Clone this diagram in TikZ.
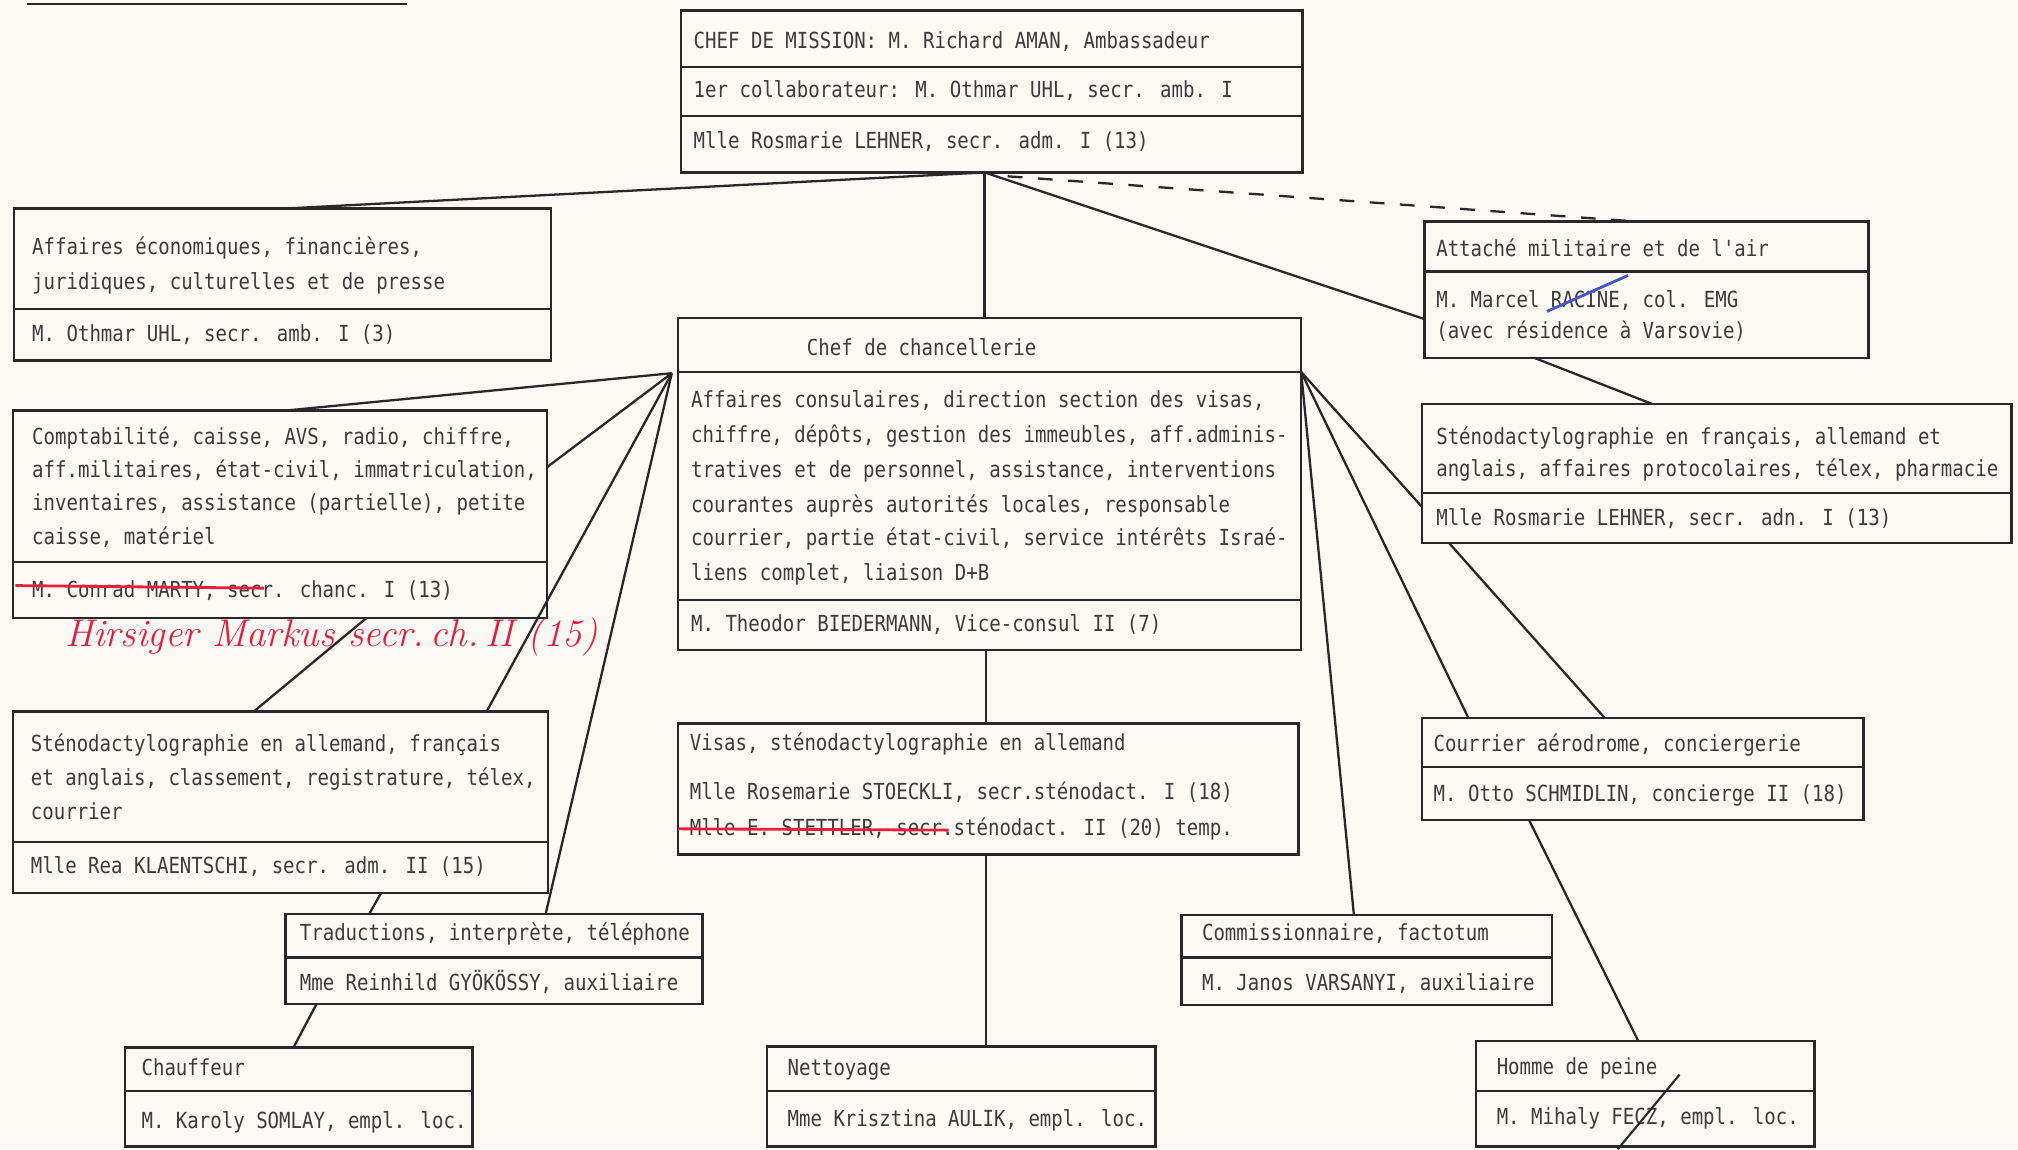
\documentclass[tikz,border=0pt]{standalone}
\usepackage{fontspec}
\newfontfamily\tw{DejaVu Sans Mono}[FakeStretch=0.86]
\usetikzlibrary{calc,fit}
\definecolor{paper}{RGB}{251,249,244}
\definecolor{ink}{RGB}{40,40,40}
\definecolor{txt}{RGB}{60,60,60}
\definecolor{redpen}{RGB}{232,30,60}
\definecolor{bluepen}{RGB}{70,85,205}
\begin{document}
\begin{tikzpicture}[x=0.01287cm,y=-0.01287cm,
  box/.style={draw=ink,line width=0.7pt,inner sep=0pt,outer sep=0pt,rectangle},
  sepline/.style={draw=ink,line width=0.6pt},
  lbl/.style={anchor=base west,inner sep=0pt,outer sep=0pt,text=txt,font=\tw\fontsize{6.3}{7}\selectfont},
  link/.style={draw=ink,line width=0.65pt},
  dashlink/.style={draw=ink,line width=0.65pt,dash pattern=on 4.2pt off 4.4pt},
  redmark/.style={draw=redpen,line width=0.8pt},
]
\fill[paper] (0,0) rectangle (1568,893);
\useasboundingbox (0,0) rectangle (1568,893);

% top-left underline of a cut-off heading
\draw[ink,line width=0.6pt] (21,3) -- (316,3);

% ---------- boxes ----------
\node[box,fit={(529,8) (1012,134)}] (A) {};
\draw[sepline] (529,52) -- (1012,52);
\draw[sepline] (529,90) -- (1012,90);
\node[lbl] (a1) at (539,38) {CHEF DE MISSION: M. Richard AMAN, Ambassadeur};
\node[lbl] (a2) at (539,76) {1er collaborateur: M. Othmar UHL, secr. amb. I};
\node[lbl] (a3) at (539,115) {Mlle Rosmarie LEHNER, secr. adm. I (13)};

\node[box,fit={(11,162) (428,280)}] (B) {};
\draw[sepline] (11,240) -- (428,240);
\node[lbl] (b1) at (25,198) {Affaires économiques, financières,};
\node[lbl] (b2) at (25,225) {juridiques, culturelles et de presse};
\node[lbl] (b3) at (25,265) {M. Othmar UHL, secr. amb. I (3)};

\node[box,fit={(527,247) (1011,505)}] (C) {};
\draw[sepline] (527,289) -- (1011,289);
\draw[sepline] (527,466) -- (1011,466);
\node[lbl] (c0) at (627,276) {Chef de chancellerie};
\node[lbl] (c1) at (537,317) {Affaires consulaires, direction section des visas,};
\node[lbl] (c2) at (537,344) {chiffre, dépôts, gestion des immeubles, aff.adminis-};
\node[lbl] (c3) at (537,371) {tratives et de personnel, assistance, interventions};
\node[lbl] (c4) at (537,398) {courantes auprès autorités locales, responsable};
\node[lbl] (c5) at (537,424) {courrier, partie état-civil, service intérêts Israé-};
\node[lbl] (c6) at (537,451) {liens complet, liaison D+B};
\node[lbl] (c7) at (537,491) {M. Theodor BIEDERMANN, Vice-consul II (7)};

\node[box,fit={(1107,172) (1452,278)}] (D) {};
\draw[sepline] (1107,211) -- (1452,211);
\node[lbl] (d1) at (1116,199) {Attaché militaire et de l'air};
\node[lbl] (d2) at (1116,239) {M. Marcel RACINE, col. EMG};
\node[lbl] (d3) at (1116,263) {(avec résidence à Varsovie)};

\node[box,fit={(10,319) (425,480)}] (E) {};
\draw[sepline] (10,437) -- (425,437);
\node[lbl] (e1) at (25,345) {Comptabilité, caisse, AVS, radio, chiffre,};
\node[lbl] (e2) at (25,371) {aff.militaires, état-civil, immatriculation,};
\node[lbl] (e3) at (25,397) {inventaires, assistance (partielle), petite};
\node[lbl] (e4) at (25,423) {caisse, matériel};
\node[lbl] (e5) at (25,464) {M. Conrad MARTY, secr. chanc. I (13)};

\node[box,fit={(1105,314) (1563,422)}] (F) {};
\draw[sepline] (1105,383) -- (1563,383);
\node[lbl] (f1) at (1116,345) {Sténodactylographie en français, allemand et};
\node[lbl] (f2) at (1116,370) {anglais, affaires protocolaires, télex, pharmacie};
\node[lbl] (f3) at (1116,408) {Mlle Rosmarie LEHNER, secr. adn. I (13)};

\node[box,fit={(10,553) (426,694)}] (G) {};
\draw[sepline] (10,654) -- (426,654);
\node[lbl] (g1) at (24,584) {Sténodactylographie en allemand, français};
\node[lbl] (g2) at (24,610) {et anglais, classement, registrature, télex,};
\node[lbl] (g3) at (24,637) {courrier};
\node[lbl] (g4) at (24,679) {Mlle Rea KLAENTSCHI, secr. adm. II (15)};

\node[box,fit={(527,562) (1009,664)}] (H) {};
\node[lbl] (h1) at (536,583) {Visas, sténodactylographie en allemand};
\node[lbl] (h2) at (536,621) {Mlle Rosemarie STOECKLI, secr.sténodact. I (18)};
\node[lbl] (h3) at (536,649) {Mlle E. STETTLER, secr.sténodact. II (20) temp.};

\node[box,fit={(1105,558) (1448,637)}] (I) {};
\draw[sepline] (1105,596) -- (1448,596);
\node[lbl] (i1) at (1114,584) {Courrier aérodrome, conciergerie};
\node[lbl] (i2) at (1114,623) {M. Otto SCHMIDLIN, concierge II (18)};

\node[box,fit={(222,710) (546,780)}] (J) {};
\draw[sepline] (222,744) -- (546,744);
\node[lbl] (j1) at (233,731) {Traductions, interprète, téléphone};
\node[lbl] (j2) at (233,770) {Mme Reinhild GYÖKÖSSY, auxiliaire};

\node[box,fit={(918,711) (1206,781)}] (K) {};
\draw[sepline] (918,744) -- (1206,744);
\node[lbl] (k1) at (934,731) {Commissionnaire, factotum};
\node[lbl] (k2) at (934,770) {M. Janos VARSANYI, auxiliaire};

\node[box,fit={(97,814) (367,891)}] (L) {};
\draw[sepline] (97,848) -- (367,848);
\node[lbl] (l1) at (110,836) {Chauffeur};
\node[lbl] (l2) at (110,877) {M. Karoly SOMLAY, empl. loc.};

\node[box,fit={(596,813) (898,891)}] (M) {};
\draw[sepline] (596,848) -- (898,848);
\node[lbl] (m1) at (612,836) {Nettoyage};
\node[lbl] (m2) at (612,875) {Mme Krisztina AULIK, empl. loc.};

\node[box,fit={(1147,809) (1410,891)}] (N) {};
\draw[sepline] (1147,848) -- (1410,848);
\node[lbl] (n1) at (1163,835) {Homme de peine};
\node[lbl] (n2) at (1163,874) {M. Mihaly FECZ, empl. loc.};

% ---------- junctions ----------
\coordinate (topj) at ($(A.south west)+(236,0)$);
\coordinate (cl) at ($(C.north west)+(-5,43)$);
\coordinate (cr) at ($(C.north east)+(0,42)$);

% ---------- connectors ----------
\draw[link] (topj) -- ($(B.north west)+(211,0)$);
\draw[link] (topj) -- ($(C.north west)+(238,0)$);
\draw[link] (topj) -- ($(D.north west)+(0,76)$);
\draw[dashlink] ($(topj)+(18,3)$) -- ($(D.north west)+(163,0)$);

\draw[link] (cl) -- ($(E.north west)+(212,0)$);
\draw[link] (cl) -- ($(E.north east)+(0,44)$);
\draw[link] (cl) -- ($(G.north west)+(368,0)$);
\draw[link] (cl) -- ($(J.north west)+(202,0)$);
\draw[link] ($(E.south west)+(275,0)$) -- ($(G.north west)+(187,0)$);
\draw[link] ($(G.south west)+(286,0)$) -- ($(J.north west)+(65,0)$);
\draw[link] ($(J.south west)+(24,0)$) -- ($(L.north west)+(131,0)$);

\draw[link] ($(C.south west)+(239,0)$) -- ($(H.north west)+(239,0)$);
\draw[link] ($(H.south west)+(239,0)$) -- ($(M.north west)+(170,0)$);

\draw[link] (cr) -- ($(F.north west)+(0,80)$);
\draw[link] (cr) -- ($(I.north west)+(36,0)$);
\draw[link] (cr) -- ($(K.north west)+(134,0)$);
\draw[link] ($(D.south west)+(85,0)$) -- ($(F.north west)+(179,0)$);
\draw[link] ($(F.south west)+(21,0)$) -- ($(I.north west)+(142,0)$);
\draw[link] ($(I.south west)+(83,0)$) -- ($(N.north west)+(126,0)$);

% ---------- hand corrections ----------
\draw[redmark] (12,455) -- (205,457);
\draw[redmark] (527,644) -- (737,645);
\node[anchor=base west,inner sep=0pt,text=redpen,font=\itshape\fontsize{11}{13}\selectfont] (hand) at (50,502) {Hirsiger Markus secr.\,ch.\,II (15)};
\draw[bluepen,line width=0.8pt] (1202,242) -- (1265,214);
\draw[ink,line width=0.6pt] (1305,835) -- (1257,893);
\end{tikzpicture}
\end{document}
